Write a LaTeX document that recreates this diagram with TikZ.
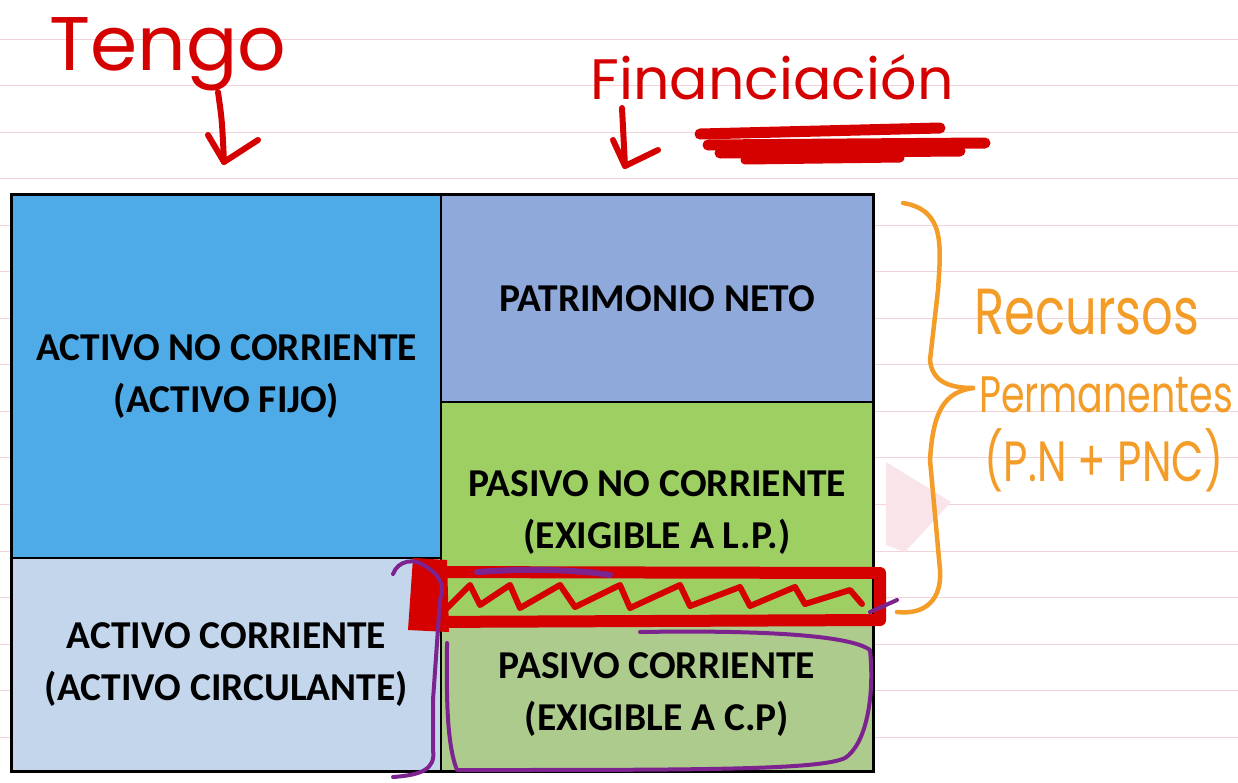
\documentclass[tikz,border=0pt]{standalone}
\usepackage{fontspec}
\setmainfont{Carlito}
\newfontfamily\hand{Poppins}
\definecolor{rulec}{HTML}{F3D3DA}
\definecolor{anc}{HTML}{4FAAE8}
\definecolor{acc}{HTML}{C3D6EC}
\definecolor{pnc}{HTML}{8FA9DA}
\definecolor{pncc}{HTML}{9ECF62}
\definecolor{pcc}{HTML}{AECB8E}
\definecolor{hred}{HTML}{D50000}
\definecolor{horange}{HTML}{F39C27}
\definecolor{hpurple}{HTML}{7D2390}
\definecolor{tri}{HTML}{F9E4E9}
\begin{document}
\begin{tikzpicture}[x=1pt,y=-1pt,
  cell/.style={draw=black,line width=1.3pt,inner sep=0pt,align=center,
    font=\fontsize{39.5}{52}\selectfont\bfseries},
  handtxt/.style={inner sep=0pt},
  redpen/.style={draw=hred,line cap=round,line join=round},
  orangepen/.style={draw=horange,line width=4.5pt,line cap=round,line join=round},
  purplepen/.style={draw=hpurple,line width=4pt,line cap=round,line join=round}]
\useasboundingbox (0,0) rectangle (1238,782);
\fill[white] (0,0) rectangle (1238,782);
\foreach \i in {0,...,16} \draw[rulec,line width=1pt] (0,39+46.55*\i) -- (1238,39+46.55*\i);
\fill[tri] (886,462) -- (951,502) -- (905,552) -- (886,545) -- cycle;

% table
\node[cell,fill=anc,minimum width=429pt,minimum height=363pt] (anc) at (226.5,376.5) {ACTIVO NO CORRIENTE\\(ACTIVO FIJO)};
\node[cell,fill=acc,minimum width=429pt,minimum height=213pt] (ac) at (226.5,664.5) {ACTIVO CORRIENTE\\(ACTIVO CIRCULANTE)};
\node[cell,fill=pnc,minimum width=432pt,minimum height=207pt] (pn) at (657,298.5) {PATRIMONIO NETO};
\node[cell,fill=pncc,minimum width=432pt,minimum height=216pt,text depth=0pt] (pnco) at (657,510) {PASIVO NO CORRIENTE\\(EXIGIBLE A L.P.)};
\node[cell,fill=pcc,minimum width=432pt,minimum height=153pt] (pco) at (657,694.5) {PASIVO CORRIENTE\\(EXIGIBLE A C.P)};
\draw[black,line width=2pt] (anc.north west) rectangle (pco.south east);

% handwritten titles
\node[handtxt,text=hred,font=\hand\fontsize{76}{76}\selectfont] (tengo) at (168,54) {Tengo};
\node[handtxt,text=hred,font=\hand\fontsize{57}{57}\selectfont] (fin) at (772,77) {Financiación};
\coordinate (tengoend) at (224,162);
\coordinate (finend) at (625,166);
\draw[redpen,line width=6pt] (218,92) .. controls (222,120) .. (tengoend);
\draw[redpen,line width=6pt] (208,135) -- (tengoend) -- (258,140);
\draw[redpen,line width=6pt] (622,108) -- (finend);
\draw[redpen,line width=6pt] (613,140) -- (finend) -- (658,150);
\draw[redpen,line width=11pt] (700,134) -- (940,128);
\draw[redpen,line width=11pt] (708,145) -- (985,143);
\draw[redpen,line width=11pt] (720,153) -- (960,151);
\draw[redpen,line width=9pt] (745,160) -- (900,158);

% red scribble over boundary
\fill[hred] (413,558) -- (447,560) -- (449,632) -- (408,630) -- cycle;
\draw[redpen,line width=12pt] (420,572) -- (880,573) -- (880,620) -- (420,622) -- cycle;
\draw[redpen,line width=6pt] (445,610) -- (470,585) -- (480,605) -- (510,585) -- (520,608) -- (560,585) -- (575,607) -- (620,585) -- (630,608) -- (680,585) -- (690,606) -- (740,587) -- (750,606) -- (795,587) -- (805,604) -- (850,590) -- (862,604);

% purple marks
\draw[purplepen] (393,574) .. controls (398,560) and (415,558) .. (425,566) .. controls (440,575) and (445,585) .. (440,600) -- (433,700) -- (433,750) .. controls (436,770) and (420,775) .. (393,777);
\draw[purplepen,line width=6pt] (477,572) .. controls (530,568) and (580,570) .. (610,575);
\draw[purplepen] (640,632) .. controls (760,630) and (850,635) .. (870,650) .. controls (875,700) and (865,745) .. (845,758) .. controls (820,770) and (700,770) .. (457,770) .. controls (445,740) and (447,680) .. (447,643);
\draw[purplepen] (870,612) -- (897,600);

% orange brace
\draw[orangepen] (903,203) .. controls (945,210) and (941,245) .. (938,290) -- (930,360) .. controls (932,382) and (950,388) .. (973,388);
\draw[orangepen] (973,388) .. controls (945,392) and (933,410) .. (930,460) -- (940,570) .. controls (942,600) and (925,615) .. (897,612);
\node[handtxt,text=horange,font=\hand\fontsize{62}{62}\selectfont,xscale=0.8,yscale=1.05] (rec) at (1087,312) {Recursos};
\node[handtxt,text=horange,font=\hand\fontsize{38}{38}\selectfont,yscale=1.35] (perm) at (1106,395) {Permanentes};
\node[handtxt,text=horange,font=\hand\fontsize{42}{42}\selectfont,yscale=1.35] (pnpnc) at (1104,460) {(P.N + PNC)};
\end{tikzpicture}
\end{document}
